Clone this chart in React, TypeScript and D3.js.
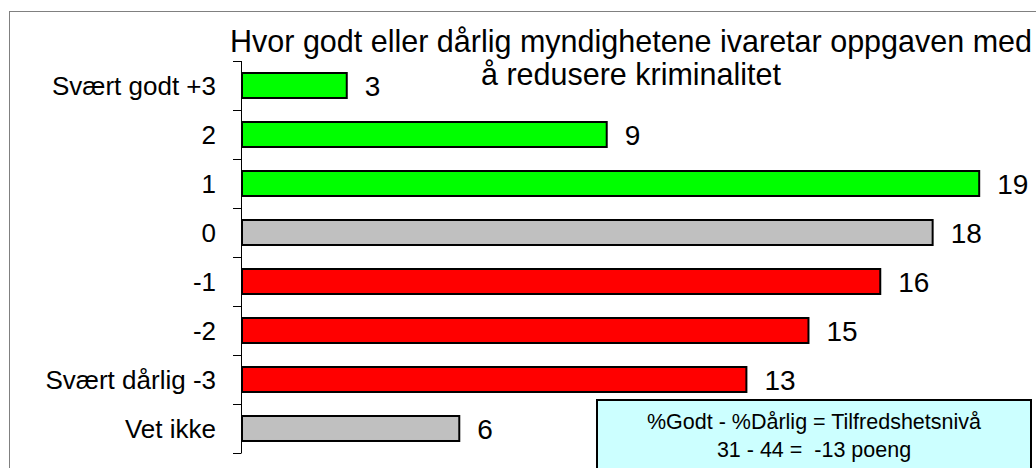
import React from 'react';
import * as d3 from 'd3';

// chart data
const categories = ['Svært godt +3', '2', '1', '0', '-1', '-2', 'Svært dårlig -3', 'Vet ikke'];
const values = [2.7, 9.4, 19.0, 17.8, 16.45, 14.6, 13.0, 5.6];
const valueLabels = ['3', '9', '19', '18', '16', '15', '13', '6'];
const groups = ['good', 'good', 'good', 'neutral', 'bad', 'bad', 'bad', 'neutral'];
const titleLines = ['Hvor godt eller dårlig myndighetene ivaretar oppgaven med', 'å redusere kriminalitet'];
const noteLines = ['%Godt - %Dårlig = Tilfredshetsnivå', '31 - 44 =  -13 poeng'];

const W = 1036;
const H = 468;
const FONT = '"Liberation Sans", Arial, sans-serif';

const colorFor: Record<string, string> = {
  good: '#00ff00',
  neutral: '#c0c0c0',
  bad: '#ff0000',
};

const App = () => {
  const margin = { top: 61, left: 242, bottom: 15 };
  const x = d3.scaleLinear().domain([0, 20]).range([margin.left, 1018]);
  const y = d3
    .scaleBand<string>()
    .domain(categories)
    .range([margin.top, margin.top + 49 * categories.length])
    .paddingInner(0.49)
    .paddingOuter(0.245);
  const step = y.step();
  const ticks = d3.range(categories.length + 1).map((i) => margin.top + i * step);

  return (
    <svg
      width={W}
      height={H}
      style={{ position: 'absolute', left: 0, top: 0, background: '#fff' }}
      fontFamily={FONT}
    >
      {/* outer frame */}
      <rect x={9.5} y={11.5} width={W + 20} height={H + 20} fill="#fff" stroke="#808080" strokeWidth={1} />

      {/* title */}
      {titleLines.map((t, i) => (
        <text key={t} x={631} y={52 + i * 33} textAnchor="middle" fontSize={30.5} fill="#000">
          {t}
        </text>
      ))}

      {/* axis */}
      <line x1={241.5} x2={241.5} y1={ticks[0]} y2={ticks[ticks.length - 1]} stroke="#000" strokeWidth={1} />
      {ticks.map((t, i) => (
        <line key={i} x1={233} x2={241.5} y1={t + 0.5} y2={t + 0.5} stroke="#000" strokeWidth={1} />
      ))}

      {categories.map((c, i) => {
        const by = y(c)!;
        const bh = y.bandwidth();
        return (
          <g key={c}>
            <rect
              x={x(0)}
              y={by}
              width={x(values[i]) - x(0)}
              height={bh}
              fill={colorFor[groups[i]]}
              stroke="#000"
              strokeWidth={2}
            />
            <text x={216} y={by + bh / 2} dy="0.36em" textAnchor="end" fontSize={26} fill="#000">
              {c}
            </text>
            <text x={x(values[i]) + 18} y={by + bh / 2} dy="0.38em" fontSize={28} fill="#000">
              {valueLabels[i]}
            </text>
          </g>
        );
      })}

      {/* note box */}
      <rect x={597} y={400} width={434} height={100} fill="#ccffff" stroke="#000" strokeWidth={2} />
      {noteLines.map((t, i) => (
        <text key={t} x={814} y={429 + i * 28} textAnchor="middle" fontSize={21.5} fill="#000" style={{ whiteSpace: 'pre' }}>
          {t}
        </text>
      ))}
    </svg>
  );
};

export default App;
